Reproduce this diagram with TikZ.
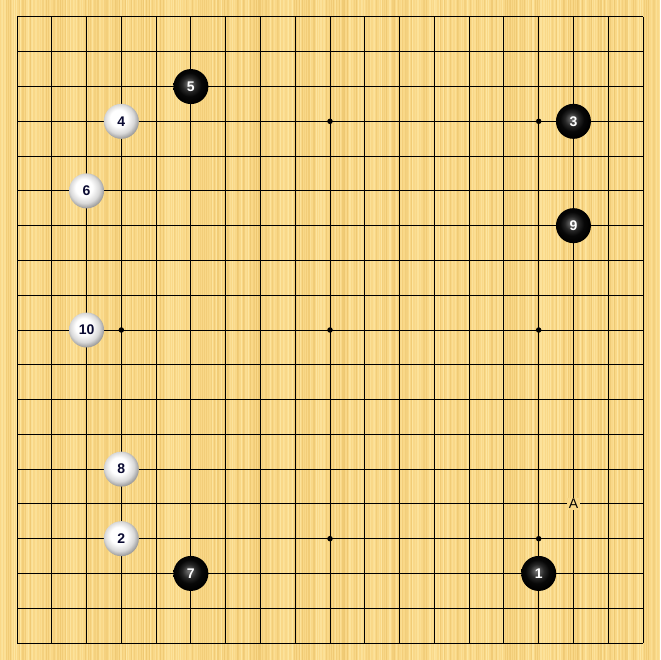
\documentclass[tikz,border=0pt]{standalone}
\usepackage{fontspec}
\setmainfont{Liberation Sans}
\definecolor{board}{RGB}{249,216,136}
\definecolor{grainA}{RGB}{255,234,168}
\definecolor{grainB}{RGB}{236,196,108}
\definecolor{navytxt}{RGB}{10,10,50}
\pgfdeclareradialshading{blackstone}{\pgfpoint{-3bp}{4bp}}{color(0bp)=(black!55); color(3bp)=(black!62); color(10bp)=(black!85); color(17bp)=(black!97); color(25bp)=(black); color(50bp)=(black)}
\pgfdeclareradialshading{whitestone}{\pgfpoint{-5bp}{6bp}}{color(0bp)=(white); color(12bp)=(white); color(21bp)=(black!15); color(28bp)=(black!42); color(50bp)=(black!42)}
\tikzset{
  gridline/.style={line width=1pt, black},
  bstone/.style={circle, minimum size=35pt, inner sep=0pt, shading=blackstone, text=white, font=\fontsize{14}{14}\selectfont\bfseries},
  wstone/.style={circle, minimum size=35pt, inner sep=0pt, shading=whitestone, text=navytxt, font=\fontsize{14}{14}\selectfont\bfseries},
  starpt/.style={circle, fill=black, minimum size=5.5pt, inner sep=0pt},
  marklabel/.style={fill=board, inner sep=1.5pt, font=\fontsize{14}{14}\selectfont},
}
\begin{document}
\begin{tikzpicture}[x=1pt,y=-1pt]
\pgfmathsetseed{7}
\useasboundingbox (0,0) rectangle (660,660);
\fill[board] (0,0) rectangle (660,660);
% wood grain
\foreach \i in {0,...,329}{
  \pgfmathsetmacro{\gx}{\i*2+rnd*1.5}
  \pgfmathsetmacro{\gw}{0.5+rnd*1.0}
  \pgfmathsetmacro{\go}{0.3+rnd*0.5}
  \pgfmathparse{rnd>0.5?1:0}
  \ifnum\pgfmathresult=1
    \draw[grainA, line width=\gw pt, opacity=\go] (\gx,0) -- (\gx,660);
  \else
    \draw[grainB, line width=\gw pt, opacity=\go] (\gx,0) -- (\gx,660);
  \fi
}
\def\s{34.7778}
% grid
\foreach \k in {0,...,18}{
  \draw[gridline] ({17+\k*\s},17) -- ({17+\k*\s},643);
  \draw[gridline] (17,{17+\k*\s}) -- (643,{17+\k*\s});
}
% star points
\foreach \c/\r [count=\n] in {4/4,10/4,16/4,4/10,10/10,16/10,4/16,10/16,16/16}{
  \node[starpt] (h\n) at ({17+(\c-1)*\s},{17+(\r-1)*\s}) {};
}
% stones
\node[bstone] (s1) at ({17+15*\s},{17+16*\s}) {1};
\node[wstone] (s2) at ({17+3*\s},{17+15*\s}) {2};
\node[bstone] (s3) at ({17+16*\s},{17+3*\s}) {3};
\node[wstone] (s4) at ({17+3*\s},{17+3*\s}) {4};
\node[bstone] (s5) at ({17+5*\s},{17+2*\s}) {5};
\node[wstone] (s6) at ({17+2*\s},{17+5*\s}) {6};
\node[bstone] (s7) at ({17+5*\s},{17+16*\s}) {7};
\node[wstone] (s8) at ({17+3*\s},{17+13*\s}) {8};
\node[bstone] (s9) at ({17+16*\s},{17+6*\s}) {9};
\node[wstone] (s10) at ({17+2*\s},{17+9*\s}) {10};
\node[marklabel] (mA) at ({17+16*\s},{17+14*\s}) {A};
\end{tikzpicture}
\end{document}
